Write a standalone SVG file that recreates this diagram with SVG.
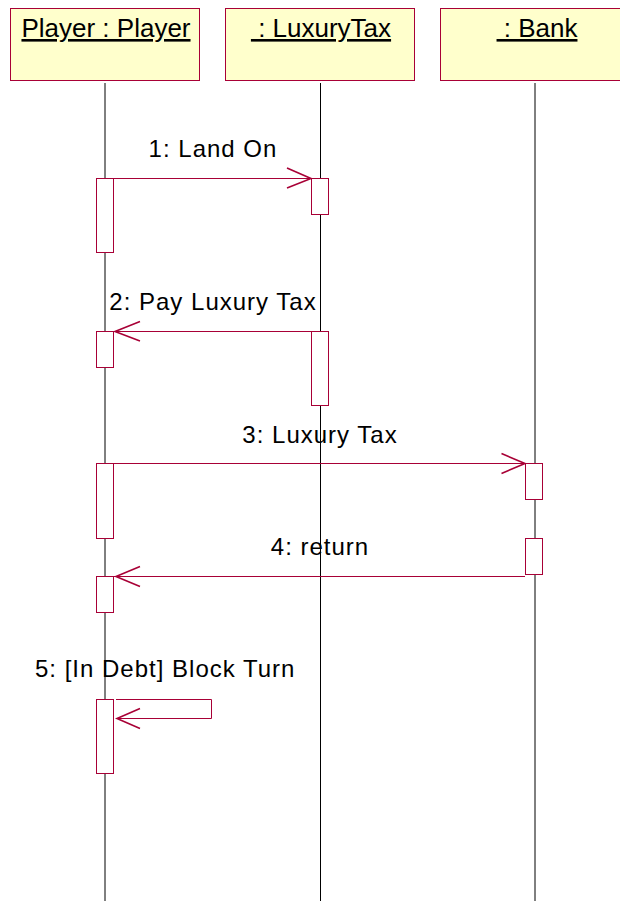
<svg xmlns="http://www.w3.org/2000/svg" width="620" height="901" viewBox="0 0 620 901">
<style>
.obj{fill:#FFFFCC;stroke:#A80036;stroke-width:1}
.title{font-family:"Liberation Sans",Arial,sans-serif;font-size:26px;fill:#000;text-anchor:middle;text-decoration:underline}
.life{stroke:#000;stroke-width:1;fill:none}
.act{fill:#fff;stroke:#A80036;stroke-width:1}
.msg{stroke:#A80036;stroke-width:1;fill:none}
.head{stroke:#A80036;stroke-width:1.6;fill:none}
.lbl{font-family:"Liberation Sans",Arial,sans-serif;font-size:24px;letter-spacing:1px;fill:#000;text-anchor:middle}
</style>
<rect width="620" height="901" fill="#fff"/>
<g id="player">
<rect class="obj" x="10.5" y="8.5" width="189" height="72"/>
<text class="title" x="106" y="37">Player : Player</text>
<line class="life" x1="105" y1="83" x2="105" y2="901"/>
</g>
<g id="luxurytax">
<rect class="obj" x="225.5" y="8.5" width="189" height="72"/>
<text class="title" x="321" y="37">&#160;: LuxuryTax</text>
<line class="life" x1="320.5" y1="83" x2="320.5" y2="901"/>
</g>
<g id="bank">
<rect class="obj" x="440.5" y="8.5" width="189" height="72"/>
<text class="title" x="537" y="37">&#160;: Bank</text>
<line class="life" x1="535" y1="83" x2="535" y2="901"/>
</g>
<g id="activations">
<rect class="act" x="96.5" y="178.5" width="17" height="74"/>
<rect class="act" x="311.5" y="178.5" width="17" height="36"/>
<rect class="act" x="96.5" y="331.5" width="17" height="36"/>
<rect class="act" x="311.5" y="331.5" width="17" height="74"/>
<rect class="act" x="96.5" y="463.5" width="17" height="75"/>
<rect class="act" x="525.5" y="463.5" width="17" height="36"/>
<rect class="act" x="525.5" y="538.5" width="17" height="36"/>
<rect class="act" x="96.5" y="576.5" width="17" height="36"/>
<rect class="act" x="96.5" y="699.5" width="17" height="74"/>
</g>
<g id="connectors">
<g id="m1">
<line class="msg" x1="114" y1="178.5" x2="311" y2="178.5"/>
<polyline class="head" points="287,168 311,178.5 287,188"/>
<text class="lbl" x="213" y="157">1: Land On</text>
</g>
<g id="m2">
<line class="msg" x1="311" y1="331.5" x2="114" y2="331.5"/>
<polyline class="head" points="140,321.5 115,331.5 140,341"/>
<text class="lbl" x="213" y="310">2: Pay Luxury Tax</text>
</g>
<g id="m3">
<line class="msg" x1="114" y1="463.5" x2="525" y2="463.5"/>
<polyline class="head" points="501.5,453.5 525,463.5 501.5,473.5"/>
<text class="lbl" x="320" y="443">3: Luxury Tax</text>
</g>
<g id="m4">
<line class="msg" x1="525" y1="576.5" x2="114" y2="576.5"/>
<polyline class="head" points="140,566.5 116,576.5 140,586.5"/>
<text class="lbl" x="320" y="555">4: return</text>
</g>
<g id="m5">
<polyline class="msg" points="116,699.5 211.5,699.5 211.5,718.5 117,718.5"/>
<polyline class="head" points="140,708.5 117,718.5 140,728.5"/>
<text class="lbl" x="35" y="677" style="text-anchor:start">5: [In Debt] Block Turn</text>
</g>
</g>
</svg>
